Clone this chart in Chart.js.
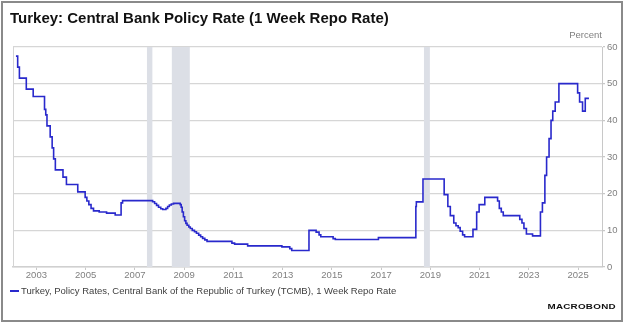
<!DOCTYPE html>
<html>
<head>
<meta charset="utf-8">
<script src="https://cdn.jsdelivr.net/npm/chart.js@4.4.1/dist/chart.umd.min.js"></script>
<style>
  html, body { margin: 0; padding: 0; background: #fff; }
  #wrap { position: relative; width: 624px; height: 323px; overflow: hidden; font-family: 'Liberation Sans', Arial, sans-serif; }
  #frame { position: absolute; left: 1px; top: 1px; width: 618px; height: 317px; border: 2px solid #8a8a8a; }
  canvas { position: absolute; left: 0; top: 0; }
  #title { position: absolute; left: 10px; top: 9px; font-weight: bold; font-size: 15px; color: #111; white-space: nowrap; }
  #unit { position: absolute; right: 22px; top: 29px; font-size: 9.5px; color: #808080; }
  #legend { position: absolute; left: 10px; top: 285px; font-size: 9.5px; color: #404040; white-space: nowrap; }
  #legend .swatch { display: inline-block; width: 9px; height: 2px; background: #2929cc; vertical-align: middle; margin-right: 2px; }
  #logo { position: absolute; right: 8px; top: 303px; font-size: 7px; font-weight: bold; color: #111; transform: scaleX(1.4); transform-origin: right center; letter-spacing: 0.2px; }
</style>
</head>
<body>
<div id="wrap">
  <canvas id="chart" width="624" height="323"></canvas>
  <div id="frame"></div>
  <div id="title">Turkey: Central Bank Policy Rate (1 Week Repo Rate)</div>
  <div id="unit">Percent</div>
  <div id="legend"><span class="swatch"></span>Turkey, Policy Rates, Central Bank of the Republic of Turkey (TCMB), 1 Week Repo Rate</div>
  <div id="logo">MACROBOND</div>
</div>
<script>
// rate change dates (decimal years) and the new rate from that date on
const rateDates = [
  2002.17, 2002.24, 2002.31, 2002.59, 2002.87, 2003.33, 2003.38, 2003.43, 2003.56, 2003.64,
  2003.70, 2003.77, 2004.08, 2004.22, 2004.68, 2004.98, 2005.05, 2005.13, 2005.22, 2005.32,
  2005.55, 2005.85, 2006.20, 2006.44, 2006.50,
  2007.72, 2007.80, 2007.88, 2007.96, 2008.05, 2008.13, 2008.26, 2008.33, 2008.40, 2008.48, 2008.57,
  2008.84, 2008.88, 2008.92, 2008.97, 2009.02, 2009.07, 2009.12, 2009.19, 2009.25, 2009.33,
  2009.42, 2009.50, 2009.59, 2009.67, 2009.75, 2009.84, 2009.93,
  2010.94, 2011.05, 2011.58, 2012.97, 2013.29, 2013.37, 2014.07, 2014.36, 2014.48, 2014.55,
  2015.05, 2015.14, 2016.89, 2018.41, 2018.43, 2018.70,
  2019.56, 2019.71, 2019.81, 2019.95, 2020.04, 2020.13, 2020.21, 2020.31, 2020.39,
  2020.73, 2020.88, 2020.98, 2021.21, 2021.73, 2021.80, 2021.88, 2021.96,
  2022.63, 2022.72, 2022.80, 2022.90, 2023.15,
  2023.47, 2023.55, 2023.65, 2023.72, 2023.82, 2023.90, 2023.97, 2024.07, 2024.22,
  2024.98, 2025.06, 2025.18, 2025.29, 2025.44
];
const rateValues = [
  57.5, 54.5, 51.5, 48.5, 46.5, 43.0, 41.5, 38.5, 35.5, 32.5,
  29.5, 26.5, 24.5, 22.5, 20.5, 19.0, 18.0, 17.0, 16.0, 15.3,
  15.0, 14.7, 14.2, 17.5, 18.1,
  17.8, 17.3, 16.8, 16.3, 15.9, 15.7, 16.0, 16.5, 16.9, 17.2, 17.35,
  17.0, 16.3, 15.0, 13.7, 12.6, 11.9, 11.4, 10.9, 10.5, 10.0,
  9.6, 9.2, 8.7, 8.25, 7.8, 7.4, 7.0,
  6.5, 6.25, 5.75, 5.5, 5.0, 4.5, 10.0, 9.5, 8.75, 8.25,
  7.75, 7.5, 8.0, 16.5, 17.75, 24.0,
  19.75, 16.5, 14.0, 12.0, 11.25, 10.75, 9.75, 8.75, 8.25,
  10.25, 15.0, 17.0, 19.0, 18.0, 16.0, 15.0, 14.0,
  13.0, 12.0, 10.5, 9.0, 8.5,
  15.0, 17.5, 25.0, 30.0, 35.0, 40.0, 42.5, 45.0, 50.0,
  47.5, 45.0, 42.5, 46.0, 46.0
];
// shaded recession periods
const recessionStarts = [2007.49, 2008.50, 2018.74];
const recessionEnds = [2007.71, 2009.23, 2018.98];
const xTickYears = [2003, 2005, 2007, 2009, 2011, 2013, 2015, 2017, 2019, 2021, 2023, 2025];
const yMin = 0, yMax = 60, yStep = 10;

const bandsPlugin = {
  id: 'bands',
  beforeDatasetsDraw(chart) {
    const { ctx, chartArea: a, scales: { x } } = chart;
    ctx.save();
    ctx.fillStyle = '#dcdfe6';
    recessionStarts.forEach((s, i) => {
      const x0 = x.getPixelForValue(s), x1 = x.getPixelForValue(recessionEnds[i]);
      ctx.fillRect(x0, a.top, x1 - x0, a.bottom - a.top);
    });
    // left frame of plot area
    ctx.strokeStyle = '#d4d4d4';
    ctx.lineWidth = 1;
    ctx.beginPath();
    ctx.moveTo(a.left + 0.5, a.top);
    ctx.lineTo(a.left + 0.5, a.bottom);
    ctx.stroke();
    ctx.restore();
  }
};

Chart.defaults.font.family = "'Liberation Sans', Arial, sans-serif";
Chart.defaults.font.size = 9.5;
Chart.defaults.color = '#808080';

new Chart(document.getElementById('chart'), {
  type: 'line',
  data: {
    datasets: [{
      label: 'Turkey, Policy Rates, Central Bank of the Republic of Turkey (TCMB), 1 Week Repo Rate',
      data: rateDates.map((d, i) => ({ x: d, y: rateValues[i] })),
      borderColor: '#2929cc',
      borderWidth: 1.6,
      pointRadius: 0,
      stepped: 'before',
      fill: false,
    }],
  },
  options: {
    responsive: false,
    animation: false,
    devicePixelRatio: 1,
    layout: { padding: { left: 13, top: 47, right: 0, bottom: 36 } },
    plugins: { legend: { display: false }, tooltip: { enabled: false } },
    scales: {
      x: {
        type: 'linear',
        min: 2002.05,
        max: 2025.97,
        afterBuildTicks: s => { s.ticks = xTickYears.map(v => ({ value: v })); },
        afterFit: s => { s.height = 20; },
        ticks: { autoSkip: false, maxRotation: 0, padding: 0, callback: v => String(v) },
        grid: { drawOnChartArea: false, drawTicks: true, tickLength: 3, tickColor: '#c8c8c8' },
        border: { color: '#d0d0d0', width: 1.5 },
      },
      y: {
        position: 'right',
        min: yMin,
        max: yMax,
        afterFit: s => { s.width = 22; },
        ticks: { stepSize: yStep, padding: 2, crossAlign: 'near' },
        grid: { color: '#d6d6d6', lineWidth: 1.2, tickLength: 3, tickColor: '#c8c8c8' },
        border: { color: '#c8c8c8', width: 1 },
      },
    },
  },
  plugins: [bandsPlugin],
});
</script>
</body>
</html>
